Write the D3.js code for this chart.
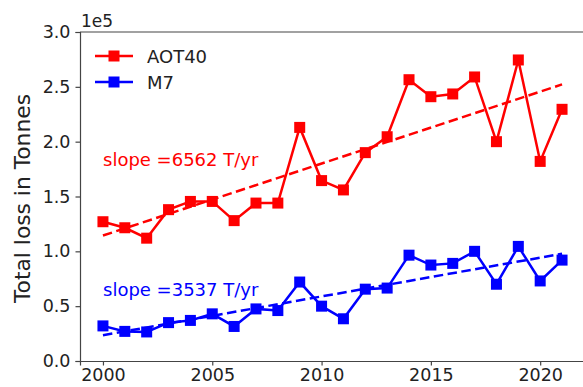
<!DOCTYPE html>
<html>
  <head>
    <meta charset="utf-8" />
    <title>Total loss in Tonnes</title>
    <script src="https://d3js.org/d3.v7.min.js"></script>
  </head>
  <style>
    body {
      margin: 0;
      background-color: white;
    }
    text {
      font-family: "DejaVu Sans", sans-serif;
    }
  </style>
  <body>
    <div id="chart"></div>
    <script>

    // data (values in units of 1e5 tonnes)
    var years = d3.range(2000, 2022);
    var aot40 = [1.27, 1.215, 1.12, 1.38, 1.455, 1.455, 1.28, 1.44, 1.44, 2.13, 1.645, 1.56,
                 1.90, 2.045, 2.565, 2.41, 2.435, 2.59, 2.0, 2.745, 1.82, 2.295];
    var m7 = [0.32, 0.27, 0.265, 0.35, 0.37, 0.43, 0.315, 0.475, 0.46, 0.72, 0.50, 0.385,
              0.655, 0.665, 0.965, 0.875, 0.89, 1.0, 0.70, 1.045, 0.73, 0.92];
    // trend lines: value at 2000 and slope (T/yr)
    var trendStart = [1.144, 0.235];
    var slopes = [6562, 3537];
    var seriesNames = ["AOT40", "M7"];
    var colors = ["#ff0000", "#0000ff"];
    var yTicks = [0, 0.5, 1.0, 1.5, 2.0, 2.5, 3.0];
    var xTicks = [2000, 2005, 2010, 2015, 2020];

    var width = 583;
    var height = 387;
    var margin = {left: 80, top: 32, right: -2, bottom: 26};

    var x = d3.scaleLinear()
        .domain([1998.95, 2022.05])
        .range([margin.left, width - margin.right]);
    var y = d3.scaleLinear()
        .domain([0, 3.0])
        .range([height - margin.bottom, margin.top]);

    var svg = d3.select("#chart").append("svg")
        .attr("width", width)
        .attr("height", height);

    // axes
    var xAxis = svg.append("g")
        .attr("transform", "translate(0," + (height - margin.bottom) + ")")
        .call(d3.axisBottom(x).tickValues(xTicks).tickFormat(d3.format("d")).tickSize(4.5).tickPadding(3));
    var yAxis = svg.append("g")
        .attr("transform", "translate(" + margin.left + ",0)")
        .call(d3.axisLeft(y).tickValues(yTicks).tickFormat(d3.format(".1f")).tickSize(4.5).tickPadding(5));
    [xAxis, yAxis].forEach(function(a) {
      a.select(".domain").attr("stroke", "#444").attr("stroke-width", 1.2);
      a.selectAll(".tick line").attr("stroke", "#444").attr("stroke-width", 1.2);
      a.selectAll(".tick text").attr("fill", "#222").style("font-size", "17.5px");
    });

    // top spine
    svg.append("line")
        .attr("x1", margin.left).attr("x2", width)
        .attr("y1", margin.top).attr("y2", margin.top)
        .attr("stroke", "#444").attr("stroke-width", 1.2);

    svg.append("text")
        .attr("x", margin.left + 1)
        .attr("y", 27)
        .attr("fill", "#222")
        .style("font-size", "17px")
        .text("1e5");

    svg.append("text")
        .attr("transform", "translate(30,198.5) rotate(-90)")
        .attr("text-anchor", "middle")
        .attr("fill", "#222")
        .style("font-size", "21.8px")
        .text("Total loss in Tonnes");

    // series
    var allSeries = [aot40, m7];
    var line = d3.line()
        .x(function(d, i) { return x(years[i]); })
        .y(function(d) { return y(d); });

    allSeries.forEach(function(vals, k) {
      var y0 = trendStart[k];
      var y1 = trendStart[k] + slopes[k] / 1e5 * (years[years.length - 1] - years[0]);
      svg.append("line")
          .attr("x1", x(years[0])).attr("y1", y(y0))
          .attr("x2", x(years[years.length - 1])).attr("y2", y(y1))
          .attr("stroke", colors[k])
          .attr("stroke-width", 2.5)
          .attr("stroke-dasharray", "9.5,4.5");

      svg.append("path")
          .datum(vals)
          .attr("d", line)
          .attr("fill", "none")
          .attr("stroke", colors[k])
          .attr("stroke-width", 2.5);

      svg.selectAll(".m" + k)
          .data(vals)
          .enter().append("rect")
            .attr("class", "m" + k)
            .attr("x", function(d, i) { return x(years[i]) - 5.5; })
            .attr("y", function(d) { return y(d) - 5.5; })
            .attr("width", 11)
            .attr("height", 11)
            .attr("fill", colors[k]);
    });

    // slope labels
    svg.append("text")
        .attr("x", 103).attr("y", 166)
        .attr("fill", colors[0])
        .style("font-size", "18px")
        .text("slope =" + slopes[0] + " T/yr");
    svg.append("text")
        .attr("x", 103).attr("y", 296)
        .attr("fill", colors[1])
        .style("font-size", "18px")
        .text("slope =" + slopes[1] + " T/yr");

    // legend
    var legend = svg.append("g").attr("transform", "translate(95,56)");
    seriesNames.forEach(function(name, k) {
      var g = legend.append("g").attr("transform", "translate(0," + (k * 26) + ")");
      g.append("line")
          .attr("x1", 0).attr("x2", 38)
          .attr("stroke", colors[k]).attr("stroke-width", 2.5);
      g.append("rect")
          .attr("x", 13.5).attr("y", -5.5)
          .attr("width", 11).attr("height", 11)
          .attr("fill", colors[k]);
      g.append("text")
          .attr("x", 52).attr("y", 6.5)
          .attr("fill", "#222")
          .style("font-size", "18px")
          .text(name);
    });

    </script>
  </body>
</html>
